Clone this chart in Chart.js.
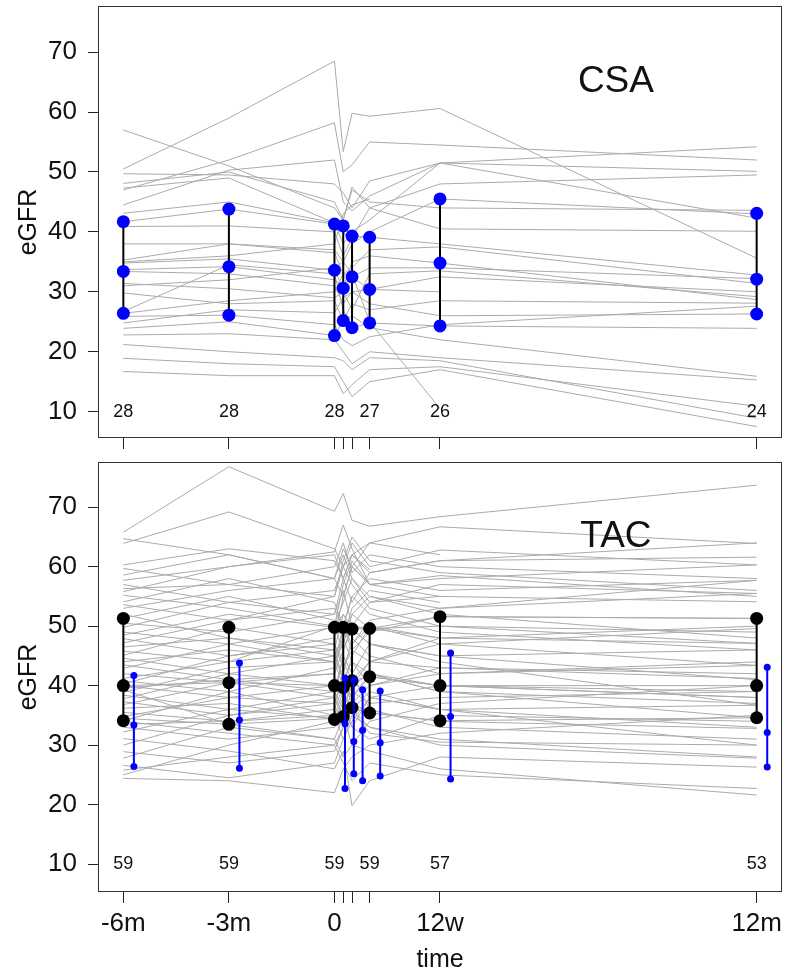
<!DOCTYPE html>
<html>
<head>
<meta charset="utf-8">
<script src="https://cdn.jsdelivr.net/npm/chart.js@4.4.0/dist/chart.umd.min.js"></script>
<style>
  body { margin: 0; background: #fff; }
  canvas { display: block; }
</style>
</head>
<body>
<canvas id="csaChart" width="786" height="450"></canvas>
<canvas id="tacChart" width="786" height="526"></canvas>
<script>
// time axis, in months
const timePoints = [-6, -3, 0, 0.25, 0.5, 1, 3, 12];
const timeLabels = ['-6m', '-3m', '0', '', '', '', '12w', '12m'];
const yTicks = [10, 20, 30, 40, 50, 60, 70];

// number of patients, printed at the bottom of each panel
const countTimes = [-6, -3, 0, 1, 3, 12];
const csaCounts = [28, 28, 28, 27, 26, 24];
const tacCounts = [59, 59, 59, 59, 57, 53];

// summary points (lower quartile, median, upper quartile)
const csaQ1 = [26.4, 26.1, 22.7, 25.2, 24.0, 24.8, 24.3, 26.3];
const csaMedian = [33.4, 34.2, 33.6, 30.6, 32.5, 30.4, 34.8, 32.1];
const csaQ3 = [41.7, 43.8, 41.3, 41.0, 39.3, 39.1, 45.5, 43.1];
const tacQ1 = [34.1, 33.5, 34.3, 34.8, 36.3, 35.4, 34.1, 34.6];
const tacMedian = [40.0, 40.5, 40.0, 39.7, 40.8, 41.5, 40.0, 40.0];
const tacQ3 = [51.3, 49.8, 49.8, 49.8, 49.5, 49.6, 51.6, 51.3];

// individual eGFR courses, one row per patient (-6m, -3m, 0, 1w, 2w, 4w, 12w, 12m)
const csaPatients = [
    [50.5, 59, 68.5, 53.4, 59.8, 59.3, 60.6, 35.6],
    [47, 52, 58.2, 50, 51.2, 55, 54.5, 52],
    [57, 51, 44, 42, 47, 45, 44, 43.6],
    [44.5, 50.3, 52, 45, 43.5, 46, 51.5, 54.2],
    [49.7, 49.5, 48, 46.5, 44, 48.5, 51.5, 50.1],
    [48.1, 50, 45, 42, 47.5, 44, 48, 49.5],
    [47.3, 49, 41.5, 38, 40, 42, 51.5, 42.3],
    [43.1, 45, 41.5, 40, 38, 40, 45.5, 43],
    [40.9, 41, 40, 36, 39, 44, 40.5, 40.1],
    [41.7, 43.8, 41.3, 41, 39.3, 39.1, 38, 32.8],
    [35.3, 38, 36.5, 33, 34, 37, 37.5, 31.4],
    [34.8, 35.5, 33.6, 30.6, 35, 36, 34.8, 28.7],
    [33.7, 34.2, 32, 31, 32.5, 34, 34, 32.2],
    [33.4, 33, 31, 28, 30, 30.4, 32.5, 30],
    [31.4, 30.5, 29, 30, 27, 33, 33.5, 29.2],
    [29.8, 28, 28.5, 25.2, 28, 27, 28.5, 28.1],
    [26.7, 34.5, 33, 27, 24, 24.8, 24.3, 23.9],
    [25.9, 26.1, 24.5, 22, 21, 22.5, 24.5, 27.6],
    [24.8, 27, 26.5, 29, 30, 28, 26, 26.3],
    [23.9, 25, 22.7, 25.2, 26, 24, 22, 15.9],
    [22.8, 23, 22, 20, 18, 20, 19, 15.3],
    [21.2, 20, 19, 18.5, 17, 19, 18.5, 8.9],
    [18.9, 18, 17.5, 15, 12.5, 15, 17, 7.5],
    [16.7, 16, 16, 13, 14.5, 17, 17.5, 10.9],
    [26.4, 28.5, 30, 33, 32.5, 30.4, 30, null],
    [31, 32, 34, 35, 33, 25, 10.5, null],
    [35, 36, 38, 43, 44.5, 45.5, null, null],
    [38, 38, 37, 35, 38, null, null, null]
];

const tacPatients = [
    [24.4, 24, 22, 26, 28, 30, 32, 35],
    [25.0, 30, 34, 36, 33, 38, 40, 38],
    [25.8, 28, 30, 27, 24, 27, 25, 22.7],
    [26.6, 24.5, 27, 31, 35, 33, 30, 27.8],
    [27.8, 33, 31, 28, 30, 34, 37, 40],
    [28.9, 27, 29, 33, 36, 32, 30.5, 30],
    [30.0, 35, 38, 45, 42, 36, 33, 31],
    [31.1, 29, 26, 29, 19.8, 24, 28, 26.3],
    [32.2, 36, 34.5, 38, 40, 44, 43, 41.2],
    [33.0, 31, 33, 35, 30, 29, 26, 21.6],
    [33.5, 34, 36, 40, 45, 50, 48, 47.1],
    [34.0, 32, 30, 33, 37, 35.5, 34, 32.8],
    [34.1, 39, 35, 31, 34, 38, 36, 36.7],
    [34.5, 33.5, 34.5, 37, 33, 31, 35, 34],
    [34.8, 38, 40, 43, 47, 51, 53, 55.5],
    [35.5, 34, 35, 39, 36, 33, 31, 28],
    [36.2, 37, 34.3, 36, 40, 42, 39, 37],
    [36.8, 40.5, 38, 35, 39, 37, 38, 39],
    [37.3, 35, 37, 41, 44, 40, 42, 43.4],
    [37.8, 42, 40, 38, 36.3, 35.4, 34.1, 34.6],
    [38.4, 36, 39, 45, 42, 47, 45, 46],
    [38.9, 43, 44, 40, 38, 41.5, 40, 39],
    [39.3, 33.5, 31, 34.8, 36, 39, 36, 33],
    [39.6, 41, 42, 49.8, 46, 44, 47, 49.6],
    [40.0, 40.5, 40, 39.7, 40.8, 41.5, 40, 40],
    [40.0, 38, 37, 42, 48, 45, 42, 44],
    [40.3, 45, 47, 44, 41, 38, 36, 30],
    [40.8, 39, 43, 48, 52, 49.6, 51.6, 51.3],
    [41.2, 44, 46, 41, 37, 40, 43, 42],
    [42.0, 40.5, 42, 46, 50, 54, 55, 54.1],
    [42.9, 47, 49.8, 52, 49.5, 47, 44, 36.7],
    [43.5, 41, 39, 36, 41, 44, 48, 50],
    [44.0, 46, 44, 50, 55, 52, 49, 46],
    [44.6, 42, 45, 48, 44, 42, 40, 38],
    [45.1, 49.8, 47, 43, 46, 49, 51.6, 51.3],
    [45.8, 44, 50, 54, 58, 55, 53, 57.7],
    [46.5, 48, 45, 41, 38, 42, 39, 34.6],
    [47.2, 51, 53, 49.8, 47, 50, 47, 43.4],
    [47.9, 45, 48, 55, 60, 57, 58, 60.3],
    [48.5, 52, 49.8, 46, 49.5, 49.6, 50, 49],
    [49.0, 47, 44, 47, 52, 55, 52, 48],
    [49.8, 54, 56, 60, 57, 53, 50, 47.1],
    [50.5, 49, 52, 58, 62, 59, 61, 61.6],
    [51.3, 55, 51, 48, 53, 56, 54, null],
    [52.0, 48, 46, 52, 49.5, 47, 45, 41],
    [53.0, 56, 58, 62, 58, 54, 57, 55.5],
    [53.6, 51, 55, 60, 64, 60, 62.8, 60.3],
    [54.1, 58, 54, 50, 55, 58, 56, 57.7],
    [55.2, 53, 50, 57, 61, 57, 55, null],
    [55.8, 60, 62, 58, 54, 59, 61, 64],
    [56.3, 57, 60, 64, 59, 62, 60, 58],
    [57.0, 54, 52, 56, 50, 49.6, 48, null],
    [57.7, 60, 62.5, 67, 63, 57, 58.5, 55],
    [58.6, 62, 58, 55, 60, 64, 62, null],
    [59.7, 57, 55, 61, 65, 61, 59, 56],
    [60.3, 63, 61, 58, 62, 59.5, null, null],
    [63.9, 69.2, 63, 60, 62, 64, 66.7, 63.9],
    [64.7, 62, 58, 63, 60, 57, null, null],
    [65.8, 76.8, 69.3, 72.3, 67.8, 66.8, 68.4, 73.7]
];

const FONT = '"Liberation Sans", Arial, sans-serif';

// box round the plot, patient counts and group name
const panelDecor = {
    id: 'panelDecor',
    afterDatasetsDraw(chart, args, opts) {
        const {ctx, chartArea: a, scales: {x, y}} = chart;
        ctx.save();
        ctx.strokeStyle = '#333';
        ctx.lineWidth = 1;
        ctx.strokeRect(a.left + 0.5, a.top + 0.5, a.right - a.left - 1, a.bottom - a.top - 1);
        ctx.fillStyle = '#111';
        ctx.textAlign = 'center';
        ctx.textBaseline = 'middle';
        ctx.font = '18px ' + FONT;
        countTimes.forEach((t, i) => {
            ctx.fillText(String(opts.counts[i]), x.getPixelForValue(t), y.getPixelForValue(10));
        });
        ctx.font = '37px ' + FONT;
        ctx.fillText(opts.label, x.getPixelForValue(8), y.getPixelForValue(65));
        ctx.restore();
    }
};

// one dataset: vertical segments q1-median-q3 at every time point
function summarySet(q1, med, q3, shift, dotColor, lineColor, radius, order) {
    const data = [];
    timePoints.forEach((t, i) => {
        data.push({x: t + shift, y: q1[i]}, {x: t + shift, y: med[i]}, {x: t + shift, y: q3[i]}, {x: t + shift, y: null});
    });
    return {
        data: data,
        showLine: true,
        spanGaps: false,
        borderColor: lineColor,
        borderWidth: 2,
        pointRadius: radius,
        pointBackgroundColor: dotColor,
        pointBorderWidth: 0,
        order: order
    };
}

function buildChart(id, o) {
    const datasets = o.patients.map(row => ({
        data: timePoints.map((t, i) => ({x: t, y: row[i]})),
        showLine: true,
        spanGaps: false,
        borderColor: '#ababab',
        borderWidth: 1,
        pointRadius: 0,
        order: 10
    }));
    o.summaries.forEach(s => datasets.push(s));

    return new Chart(document.getElementById(id).getContext('2d'), {
        type: 'scatter',
        data: {datasets: datasets},
        plugins: [panelDecor],
        options: {
            responsive: false,
            animation: false,
            events: [],
            layout: {autoPadding: false, padding: {top: o.padTop, right: 4, left: 0, bottom: 0}},
            plugins: {
                legend: {display: false},
                tooltip: {enabled: false},
                panelDecor: {counts: o.counts, label: o.label}
            },
            scales: {
                x: {
                    type: 'linear',
                    min: -6.72,
                    max: 12.72,
                    afterBuildTicks: scale => { scale.ticks = timePoints.map(v => ({value: v})); },
                    afterFit: scale => {
                        scale.height = o.xHeight;
                        scale.paddingLeft = 0;
                        scale.paddingRight = 0;
                    },
                    border: {display: false},
                    grid: {drawOnChartArea: false, drawTicks: true, tickLength: 11, tickColor: '#222', lineWidth: 1},
                    ticks: {
                        display: o.xLabels,
                        autoSkip: false,
                        maxRotation: 0,
                        padding: 5,
                        color: '#111',
                        font: {family: FONT, size: 26},
                        callback: (v, i) => timeLabels[i]
                    },
                    title: {
                        display: o.xLabels,
                        text: 'time',
                        color: '#111',
                        font: {family: FONT, size: 25},
                        padding: {top: 0, bottom: 1}
                    }
                },
                y: {
                    min: o.yMin,
                    max: o.yMax,
                    afterBuildTicks: scale => { scale.ticks = yTicks.map(v => ({value: v})); },
                    afterFit: scale => {
                        scale.width = 98;
                        scale.paddingTop = 0;
                        scale.paddingBottom = 0;
                    },
                    border: {display: false},
                    grid: {drawOnChartArea: false, drawTicks: true, tickLength: 10, tickColor: '#222', lineWidth: 1},
                    ticks: {
                        padding: 11,
                        color: '#111',
                        font: {family: FONT, size: 26}
                    },
                    title: {
                        display: true,
                        text: 'eGFR',
                        color: '#111',
                        font: {family: FONT, size: 25},
                        padding: {top: 14, bottom: 0}
                    }
                }
            }
        }
    });
}

const csaChart = buildChart('csaChart', {
    patients: csaPatients,
    summaries: [summarySet(csaQ1, csaMedian, csaQ3, 0, '#0000ff', '#000000', 6.5, 1)],
    counts: csaCounts,
    label: 'CSA',
    padTop: 6,
    xHeight: 12,
    xLabels: false,
    yMin: 5.6,
    yMax: 77.7
});

const tacChart = buildChart('tacChart', {
    patients: tacPatients,
    summaries: [
        summarySet(tacQ1, tacMedian, tacQ3, 0, '#000000', '#000000', 6.5, 2),
        summarySet(csaQ1, csaMedian, csaQ3, 0.3, '#0000ff', '#0000ff', 3.5, 1)
    ],
    counts: tacCounts,
    label: 'TAC',
    padTop: 12,
    xHeight: 84,
    xLabels: true,
    yMin: 5.3,
    yMax: 77.6
});
</script>
</body>
</html>
